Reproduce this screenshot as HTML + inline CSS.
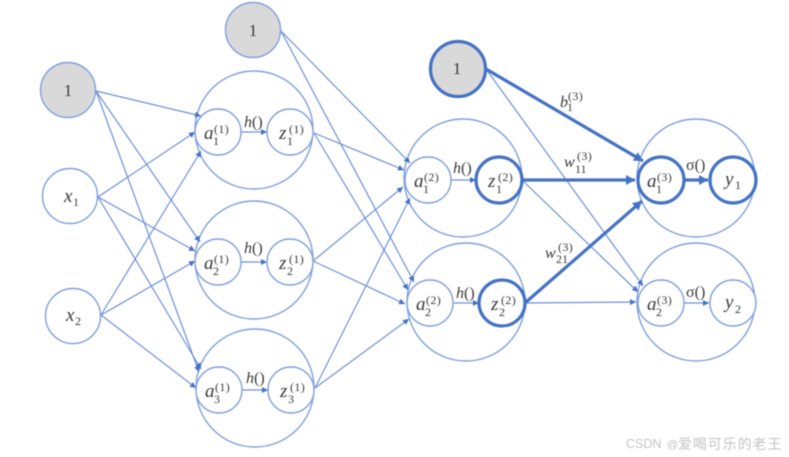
<!DOCTYPE html>
<html><head><meta charset="utf-8"><style>
html,body{margin:0;padding:0;background:#fff;width:789px;height:457px;overflow:hidden}
svg{display:block;filter:blur(.45px)}
text{font-family:"Liberation Serif","DejaVu Serif",serif;fill:#3a3a3a}
.m{font-style:italic;font-size:19px}
.s{font-size:12px;letter-spacing:.4px}
.b{font-size:12px}
.f{font-size:16px}
.o{font-size:17px;text-anchor:middle}
circle{fill:#fff;stroke:#7f9fdd;stroke-width:1.4}
.g{fill:#d9d9d9}
.t{stroke:#4472c4;stroke-width:3.2}
.e{fill:none}
.l line{stroke:#6d90d8;stroke-width:1.2;marker-end:url(#a)}
.h line{stroke:#4472c4;stroke-width:3.2;marker-end:url(#b)}
</style></head><body>
<svg width="789" height="457" viewBox="0 0 789 457" xmlns="http://www.w3.org/2000/svg">
<defs>
<marker id="a" markerUnits="userSpaceOnUse" markerWidth="7" markerHeight="6" refX="6" refY="3" orient="auto"><path d="M0 0L6 3L0 6z" fill="#4472c4"/></marker>
<marker id="b" markerUnits="userSpaceOnUse" markerWidth="10" markerHeight="10" refX="9" refY="5" orient="auto"><path d="M0 0L9 5L0 10z" fill="#4472c4"/></marker>
</defs>

<!-- outer circles -->
<circle class="e" cx="254" cy="130" r="59"/>
<circle class="e" cx="254" cy="260" r="59"/>
<circle class="e" cx="255" cy="388" r="59"/>
<circle class="e" cx="463" cy="178" r="59"/>
<circle class="e" cx="466" cy="302" r="59"/>
<circle class="e" cx="696" cy="178" r="59"/>
<circle class="e" cx="696" cy="302" r="59"/>

<!-- connectors -->
<g class="l">
<line x1="96" y1="91" x2="201" y2="116"/>
<line x1="96" y1="91" x2="200" y2="242"/>
<line x1="96" y1="91" x2="199" y2="372"/>
<line x1="98" y1="197" x2="195" y2="132"/>
<line x1="98" y1="197" x2="195" y2="251"/>
<line x1="98" y1="197" x2="201" y2="369"/>
<line x1="101" y1="315" x2="201" y2="151"/>
<line x1="101" y1="315" x2="195" y2="261"/>
<line x1="101" y1="315" x2="196" y2="388"/>
<line x1="281" y1="31" x2="410" y2="163"/>
<line x1="281" y1="31" x2="414" y2="282"/>
<line x1="314" y1="133" x2="404" y2="170"/>
<line x1="314" y1="133" x2="408" y2="290"/>
<line x1="313" y1="261" x2="403" y2="187"/>
<line x1="313" y1="261" x2="405" y2="304"/>
<line x1="315" y1="388" x2="410" y2="198"/>
<line x1="315" y1="388" x2="409" y2="319"/>
<line x1="486" y1="69" x2="643" y2="286"/>
<line x1="522" y1="180" x2="638" y2="292"/>
<line x1="525" y1="303" x2="636" y2="302"/>
<line x1="241" y1="132" x2="267" y2="132"/>
<line x1="241" y1="262" x2="267" y2="262"/>
<line x1="242" y1="390" x2="268" y2="390"/>
<line x1="451" y1="180" x2="476" y2="180"/>
<line x1="453" y1="303" x2="479" y2="303"/>
<line x1="684" y1="303" x2="709" y2="303"/>
</g>
<g class="h">
<line x1="486" y1="69" x2="643" y2="161"/>
<line x1="522" y1="180" x2="635" y2="180"/>
<line x1="525" y1="303" x2="642" y2="201"/>
<line x1="684" y1="180" x2="708" y2="180"/>
</g>

<!-- nodes -->
<circle class="g" cx="68" cy="90" r="27.5"/>
<circle class="g" cx="253" cy="30" r="27.5"/>
<circle class="g t" cx="458" cy="69" r="27.5"/>
<circle cx="70" cy="196" r="27.5"/>
<circle cx="73" cy="316" r="27.5"/>
<circle cx="218" cy="132" r="23"/>
<circle cx="290" cy="132" r="23"/>
<circle cx="218" cy="262" r="23"/>
<circle cx="290" cy="262" r="23"/>
<circle cx="219" cy="390" r="23"/>
<circle cx="291" cy="390" r="23"/>
<circle cx="428" cy="180" r="23"/>
<circle class="t" cx="499" cy="180" r="23"/>
<circle cx="430" cy="303" r="23"/>
<circle class="t" cx="502" cy="303" r="23"/>
<circle class="t" cx="661" cy="180" r="23"/>
<circle class="t" cx="733" cy="180" r="23"/>
<circle cx="661" cy="303" r="23"/>
<circle cx="733" cy="303" r="23"/>

<!-- constant labels -->
<text class="o" x="68" y="96">1</text>
<text class="o" x="253" y="36">1</text>
<text class="o" x="457" y="74">1</text>

<!-- input labels -->
<text class="m" x="64" y="202">x</text><text class="b" x="73" y="206">1</text>
<text class="m" x="66" y="321">x</text><text class="b" x="75" y="325">2</text>

<!-- layer 1 -->
<g transform="translate(218 132)"><text class="m" x="-14" y="7">a</text><text class="s" x="-4" y="1">(1)</text><text class="b" x="-5" y="13">1</text></g>
<g transform="translate(290 132)"><text class="m" x="-11" y="7">z</text><text class="s" x="-1" y="1">(1)</text><text class="b" x="-3" y="13">1</text></g>
<g transform="translate(218 262)"><text class="m" x="-14" y="7">a</text><text class="s" x="-4" y="1">(1)</text><text class="b" x="-5" y="13">2</text></g>
<g transform="translate(290 262)"><text class="m" x="-11" y="7">z</text><text class="s" x="-1" y="1">(1)</text><text class="b" x="-3" y="13">2</text></g>
<g transform="translate(219 390)"><text class="m" x="-14" y="7">a</text><text class="s" x="-4" y="1">(1)</text><text class="b" x="-5" y="13">3</text></g>
<g transform="translate(291 390)"><text class="m" x="-11" y="7">z</text><text class="s" x="-1" y="1">(1)</text><text class="b" x="-3" y="13">3</text></g>

<!-- layer 2 -->
<g transform="translate(428 180)"><text class="m" x="-14" y="7">a</text><text class="s" x="-4" y="1">(2)</text><text class="b" x="-5" y="13">1</text></g>
<g transform="translate(499 180)"><text class="m" x="-11" y="7">z</text><text class="s" x="-1" y="1">(2)</text><text class="b" x="-3" y="13">1</text></g>
<g transform="translate(430 303)"><text class="m" x="-14" y="7">a</text><text class="s" x="-4" y="1">(2)</text><text class="b" x="-5" y="13">2</text></g>
<g transform="translate(502 303)"><text class="m" x="-11" y="7">z</text><text class="s" x="-1" y="1">(2)</text><text class="b" x="-3" y="13">2</text></g>

<!-- layer 3 -->
<g transform="translate(661 180)"><text class="m" x="-14" y="7">a</text><text class="s" x="-4" y="1">(3)</text><text class="b" x="-5" y="13">1</text></g>
<g transform="translate(661 303)"><text class="m" x="-14" y="7">a</text><text class="s" x="-4" y="1">(3)</text><text class="b" x="-5" y="13">2</text></g>
<text class="m" x="725" y="185">y</text><text class="b" x="735" y="189">1</text>
<text class="m" x="725" y="308">y</text><text class="b" x="735" y="313">2</text>

<!-- activation labels -->
<text class="f" x="244" y="127"><tspan font-style="italic">h</tspan>()</text>
<text class="f" x="244" y="253"><tspan font-style="italic">h</tspan>()</text>
<text class="f" x="246" y="383"><tspan font-style="italic">h</tspan>()</text>
<text class="f" x="453" y="173"><tspan font-style="italic">h</tspan>()</text>
<text class="f" x="456" y="298"><tspan font-style="italic">h</tspan>()</text>
<text class="f" x="686" y="170">σ()</text>
<text class="f" x="686" y="297">σ()</text>

<!-- edge labels -->
<text class="m" style="font-size:16px" x="560" y="107">b</text><text class="s" x="568" y="100">(3)</text><text class="b" x="567" y="111">1</text>
<text class="m" style="font-size:16px" x="564" y="167">w</text><text class="s" x="577" y="160">(3)</text><text class="b" x="575" y="173">11</text>
<text class="m" style="font-size:16px" x="545" y="258">w</text><text class="s" x="558" y="251">(3)</text><text class="b" x="556" y="263">21</text>

<!-- watermark -->
<text x="626" y="448" style="font-family:'Liberation Sans',sans-serif;font-size:12.5px;fill:#c4c4c4">CSDN</text>
<text x="667" y="448" style="font-family:'Liberation Sans',sans-serif;font-size:11px;fill:#c4c4c4">@</text>
<text x="678" y="449" style="font-family:'Liberation Sans','Noto Sans CJK SC',sans-serif;font-size:14px;letter-spacing:.9px;fill:#c4c4c4">爱喝可乐的老王</text>
</svg>
</body></html>
